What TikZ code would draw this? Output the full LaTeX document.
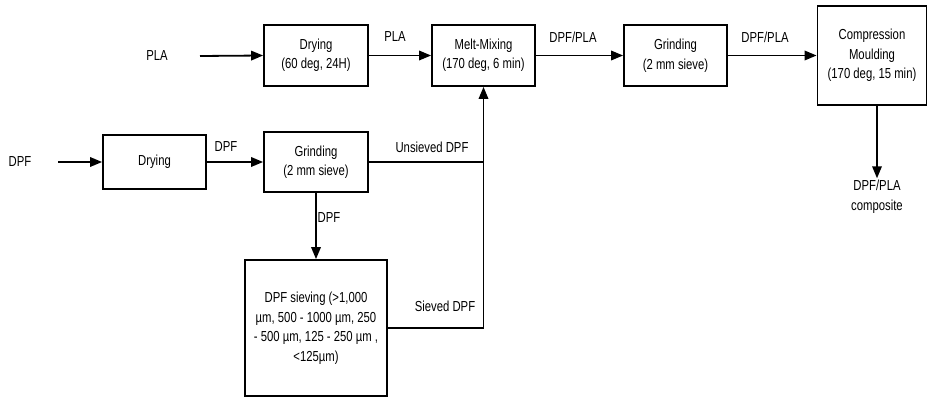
\documentclass[tikz,border=0pt]{standalone}
\usepackage{fontspec}
\setmainfont{Liberation Sans}
\newfontfamily\narrowsans[FakeStretch=0.78]{Liberation Sans}
\usetikzlibrary{arrows.meta}
\begin{document}
\begin{tikzpicture}[x=1pt,y=-1pt,
  every node/.style={font=\narrowsans\fontsize{14.5}{19.5}\selectfont, align=center, inner sep=0pt},
  flow/.style={line width=1.8pt, -{Triangle[length=12pt,width=9.5pt]}},
  plain/.style={line width=1.8pt},
  pbox/.style={draw, line width=1.8pt}]
\useasboundingbox (0,0) rectangle (928,398);
% top row
\node (pla) at (157,56) {PLA};
\coordinate (plaS) at (200,56);
\node[pbox, minimum width=104pt, minimum height=61pt] (dry1) at (316,55.5) {Drying\\(60 deg, 24H)};
\node[pbox, minimum width=103pt, minimum height=61pt] (melt) at (483.5,55.5) {Melt-Mixing\\(170 deg, 6 min)};
\node[pbox, minimum width=103pt, minimum height=61pt] (grind2) at (675.5,55.5) {Grinding\\(2 mm sieve)};
\node[pbox, minimum width=109pt, minimum height=99pt] (comp) at (872,55.5) {Compression\\Moulding\\(170 deg, 15 min)};
\node (prod) at (877,197) {DPF/PLA\\composite};
% labels
\node (lPLA) at (395,37) {PLA};
\node (lDP1) at (573,37) {DPF/PLA};
\node (lDP2) at (765,37) {DPF/PLA};
% bottom row
\node (dpf) at (20,162) {DPF};
\coordinate (dpfS) at (58,162);
\node[pbox, minimum width=103pt, minimum height=54pt] (dry2) at (154.5,162) {Drying};
\node[pbox, minimum width=104pt, minimum height=60pt] (grind1) at (316,162) {Grinding\\(2 mm sieve)};
\node[pbox, minimum width=142pt, minimum height=136pt] (sieve) at (316,328) {DPF sieving (>1,000\\µm, 500 - 1000 µm, 250\\- 500 µm, 125 - 250 µm ,\\<125µm)};
\node (lDPF1) at (226,147) {DPF};
\node (lUns) at (432,147) {Unsieved DPF};
\node (lDPF2) at (329,218) {DPF};
\node (lSie) at (445,306) {Sieved DPF};
\coordinate (join) at (483.5,162);
\coordinate (corner) at (483.5,328);
% connectors
\draw[flow] (plaS) -- (dry1.west);
\draw[flow] (dry1.east) -- (melt.west);
\draw[flow] (melt.east) -- (grind2.west);
\draw[flow] (grind2.east) -- (comp.west |- grind2.east);
\draw[flow] (comp.south -| prod.north) -- ([yshift=2pt]prod.north);
\draw[flow] (dpfS) -- (dry2.west);
\draw[flow] (dry2.east) -- (grind1.west);
\draw[flow] (grind1.south) -- (sieve.north);
\draw[plain] (grind1.east) -- (join);
\draw[plain] (sieve.east) -- (corner) -- (join);
\draw[flow] (join) -- (melt.south);
\end{tikzpicture}
\end{document}
